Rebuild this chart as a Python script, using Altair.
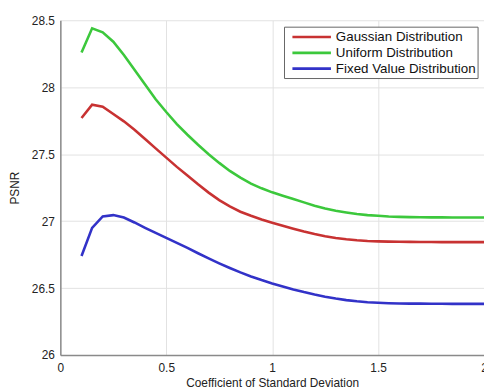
import altair as alt
import pandas as pd

x_vals = [0.1, 0.15, 0.2, 0.25, 0.3, 0.35, 0.4, 0.45, 0.5, 0.55, 0.6, 0.65, 0.7,
          0.75, 0.8, 0.85, 0.9, 0.95, 1.0, 1.05, 1.1, 1.15, 1.2, 1.25, 1.3, 1.35,
          1.4, 1.45, 1.5, 1.55, 1.6, 1.65, 1.7, 1.75, 1.8, 1.85, 1.9, 1.95, 2.0]

gaussian = [27.77, 27.87, 27.855, 27.80, 27.745, 27.683, 27.613, 27.543, 27.474,
            27.405, 27.34, 27.275, 27.213, 27.157, 27.11, 27.07, 27.04, 27.012,
            26.988, 26.965, 26.943, 26.922, 26.903, 26.887, 26.874, 26.864,
            26.857, 26.852, 26.849, 26.847, 26.846, 26.845, 26.844, 26.844,
            26.843, 26.843, 26.843, 26.843, 26.843]

uniform = [28.26, 28.44, 28.41, 28.34, 28.24, 28.13, 28.02, 27.91, 27.815,
           27.725, 27.645, 27.57, 27.50, 27.435, 27.375, 27.325, 27.28, 27.245,
           27.215, 27.19, 27.165, 27.14, 27.115, 27.095, 27.078, 27.065, 27.053,
           27.045, 27.04, 27.035, 27.032, 27.03, 27.029, 27.028, 27.028,
           27.027, 27.027, 27.027, 27.027]

fixed_value = [26.74, 26.95, 27.035, 27.045, 27.027, 26.99, 26.95, 26.912, 26.875,
               26.837, 26.80, 26.76, 26.722, 26.685, 26.65, 26.617, 26.587, 26.56,
               26.535, 26.512, 26.49, 26.47, 26.452, 26.436, 26.422, 26.41, 26.401,
               26.394, 26.39, 26.387, 26.385, 26.384, 26.384, 26.383, 26.383,
               26.382, 26.382, 26.382, 26.382]

series_names = ["Gaussian Distribution", "Uniform Distribution", "Fixed Value Distribution"]
series_colors = ["#c83232", "#3cc83c", "#3232c8"]

x_ticks = [0, 0.5, 1, 1.5, 2]
y_ticks = [26, 26.5, 27, 27.5, 28, 28.5]

rows = []
for name, vals in zip(series_names, [gaussian, uniform, fixed_value]):
    for xv, yv in zip(x_vals, vals):
        rows.append({"coef": xv, "psnr": yv, "series": name})
df = pd.DataFrame(rows)

legend_df = pd.DataFrame({"series": series_names, "idx": list(range(len(series_names)))})

FONT = "Liberation Sans"
color_scale = alt.Scale(domain=series_names, range=series_colors)

lines = alt.Chart(df).mark_line(strokeWidth=2.6).encode(
    x=alt.X("coef:Q",
            scale=alt.Scale(domain=[0, 2], nice=False),
            axis=alt.Axis(values=x_ticks, title="Coefficient of Standard Deviation",
                          labelExpr="'' + datum.value", labelFlush=False,
                          ticks=False, labelPadding=8, titlePadding=4)),
    y=alt.Y("psnr:Q",
            scale=alt.Scale(domain=[26, 28.5], nice=False, zero=False),
            axis=alt.Axis(values=y_ticks, title="PSNR",
                          labelExpr="'' + datum.value", labelFlush=False,
                          ticks=False, labelPadding=6, titlePadding=10)),
    color=alt.Color("series:N", scale=color_scale, legend=None),
)

# manual legend (box, line samples, labels)
legend_box = alt.Chart(pd.DataFrame({"k": [0]})).mark_rect(
    fill="white", stroke="#666666", strokeWidth=1
).encode(x=alt.value(227), x2=alt.value(423), y=alt.value(7), y2=alt.value(59))

legend_base = alt.Chart(legend_df).transform_calculate(ypix="17 + 16 * datum.idx")

legend_lines = legend_base.mark_rule(strokeWidth=2.6).encode(
    x=alt.value(235), x2=alt.value(274),
    y=alt.Y("ypix:Q", scale=None),
    color=alt.Color("series:N", scale=color_scale, legend=None),
)

legend_text = legend_base.mark_text(
    align="left", baseline="middle", font=FONT, fontSize=13.5, color="#111"
).encode(
    x=alt.value(279),
    y=alt.Y("ypix:Q", scale=None),
    text="series:N",
)

chart = alt.layer(lines, legend_box, legend_lines, legend_text).properties(
    width=429, height=339,
    padding={"left": 53, "top": 10, "right": 0, "bottom": 34},
    autosize="none",
).configure_axis(
    labelFont=FONT, titleFont=FONT, labelFontSize=12, titleFontSize=12,
    labelColor="#222", titleColor="#222", titleFontWeight="normal",
    domainColor="#8a8a8a", domainWidth=1.5, gridColor="#e2e2e2", gridWidth=1,
).configure_view(stroke=None)

chart.save("out.html", embed_options={"renderer": "svg", "actions": False})
